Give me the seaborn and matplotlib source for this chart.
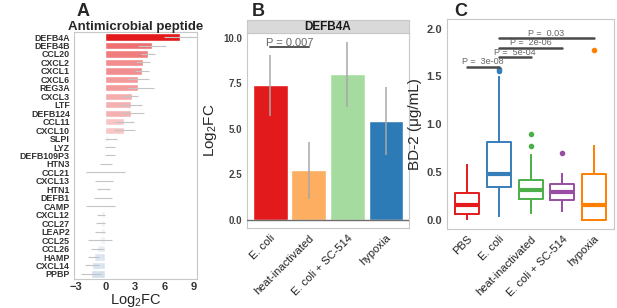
import numpy as np
import pandas as pd
import matplotlib.pyplot as plt
import matplotlib.colors as mcolors
import seaborn as sns

sns.set_style("white")
plt.rcParams['font.family'] = ['Liberation Sans', 'DejaVu Sans']
plt.rcParams['mathtext.default'] = 'regular'

# Panel A: antimicrobial peptide log2 fold changes
genes = ["DEFB4A", "DEFB4B", "CCL20", "CXCL2", "CXCL1", "CXCL6", "REG3A", "CXCL3",
         "LTF", "DEFB124", "CCL11", "CXCL10", "SLPI", "LYZ", "DEFB109P3", "HTN3",
         "CCL21", "CXCL13", "HTN1", "DEFB1", "CAMP", "CXCL12", "CCL27", "LEAP2",
         "CCL25", "CCL26", "HAMP", "CXCL14", "PPBP"]
log2fc = [7.6, 4.7, 4.3, 3.8, 3.7, 3.35, 3.35, 2.7, 2.6, 2.6, 1.9, 1.85, 0.35, 0.2,
          0.1, 0.05, 0.0, -0.05, -0.1, -0.15, -0.25, -0.45, -0.45, -0.5, -0.55,
          -0.85, -1.2, -1.35, -1.5]
log2fc_lo = [5.9, 3.3, 3.6, 3.1, 3.0, 2.3, 2.2, 1.7, 1.5, 1.5, 1.0, 0.9, 0.0, -0.1,
             -0.07, -0.6, -2.0, -1.1, -0.9, -1.2, -1.95, -0.9, -1.0, -1.05, -1.8,
             -1.45, -1.75, -2.1, -2.5]
log2fc_hi = [9.35, 6.15, 5.0, 4.5, 4.4, 4.4, 4.9, 3.3, 3.7, 3.9, 2.85, 3.0, 1.2, 1.0,
             1.0, 0.65, 2.0, 0.8, 0.45, 0.65, 1.0, -0.1, -0.1, -0.05, 0.65, -0.2,
             -0.7, -0.7, -0.45]

# Panel B: DEFB4A by condition
conds_b = ["E. coli", "heat-inactivated", "E. coli + SC-514", "hypoxia"]
fc_b = [7.4, 2.75, 8.0, 5.45]
fc_b_lo = [5.7, 1.15, 6.2, 3.55]
fc_b_hi = [9.05, 4.3, 9.75, 7.3]
colors_b = ["#E31A1C", "#FDAE61", "#A6DBA0", "#2C7BB6"]

# Panel C: BD-2 protein levels
groups_c = ["PBS", "E. coli", "heat-inactivated", "E. coli + SC-514", "hypoxia"]
bd2_pbs = [0.0, 0.02, 0.04, 0.063, 0.09, 0.13, 0.16, 0.19, 0.24, 0.285, 0.35, 0.45, 0.59]
bd2_ecoli = [0.035, 0.2, 0.3, 0.34, 0.38, 0.43, 0.48, 0.55, 0.68, 0.82, 1.5, 1.56, 1.58]
bd2_heat = [0.06, 0.14, 0.2, 0.22, 0.26, 0.29, 0.31, 0.34, 0.38, 0.42, 0.69, 0.77, 0.9]
bd2_sc514 = [0.08, 0.15, 0.19, 0.21, 0.24, 0.27, 0.29, 0.31, 0.34, 0.375, 0.43, 0.49, 0.70]
bd2_hypoxia = [0.0, 0.0, 0.0, 0.0, 0.03, 0.08, 0.155, 0.25, 0.38, 0.48, 0.62, 0.78, 1.78]
colors_c = ["#E41A1C", "#377EB8", "#4DAF4A", "#984EA3", "#FF7F00"]
pairs_c = [(0, 1), (1, 2), (1, 3), (1, 4)]
pair_y = [1.6, 1.7, 1.8, 1.9]
pair_text = ["P =  3e-08", "P =  5e-04", "P =  2e-06", "P =  0.03"]

W, H = 617, 308
fig = plt.figure(figsize=(W / 100, H / 100), dpi=100)


def rect(l, t, r, b):
    return [l / W, 1 - b / H, (r - l) / W, (b - t) / H]


def frame(ax, col='#C8C8C8'):
    for s in ax.spines.values():
        s.set_visible(True)
        s.set_color(col)
        s.set_linewidth(0.8)
    ax.tick_params(length=2, width=0.6, color='#888888', pad=1.5)


axA = fig.add_axes(rect(74, 32, 197, 279))
axB = fig.add_axes(rect(247, 33, 409, 228))
strip = fig.add_axes(rect(247, 20, 409, 33))
axC = fig.add_axes(rect(447, 19, 614, 229))

# ---- A
dfA = pd.DataFrame({'gene': genes, 'log2fc': log2fc})
cmap = mcolors.LinearSegmentedColormap.from_list('rb', ['#2166AC', 'white', '#E31A1C'])
norm = mcolors.Normalize(-7.6, 7.6)
palA = [cmap(norm(v)) for v in log2fc]
sns.barplot(data=dfA, x='log2fc', y='gene', hue='gene', palette=palA, saturation=1,
            legend=False, width=0.85, orient='h', ax=axA)
axA.hlines(np.arange(len(genes)), log2fc_lo, log2fc_hi, color='#C4C4C4', lw=0.8, zorder=5)
axA.set_xlim(-3.2, 9.3)
axA.set_ylim(len(genes) - 0.4, -0.6)
axA.set_xticks([-3, 0, 3, 6, 9])
axA.set_xlabel('Log$_2$FC', fontsize=10.5, labelpad=0)
axA.set_ylabel('')
frame(axA)
axA.tick_params(axis='y', labelsize=6.4, labelcolor='#333333', pad=1)
axA.tick_params(axis='x', labelsize=8, labelcolor='#333333', pad=0.5)
for t in axA.get_yticklabels() + axA.get_xticklabels():
    t.set_fontweight('bold')
axA.set_title('Antimicrobial peptide', fontweight='bold', fontsize=9.5, pad=1.5)
fig.text(77 / W, 1 - 3 / H, 'A', fontsize=13, fontweight='bold', va='top')

# ---- B
dfB = pd.DataFrame({'cond': conds_b, 'fc': fc_b})
sns.barplot(data=dfB, x='cond', y='fc', hue='cond', palette=colors_b, saturation=1,
            legend=False, width=0.9, ax=axB)
axB.vlines(np.arange(len(conds_b)), fc_b_lo, fc_b_hi, color='#A8A8A8', lw=1.1, zorder=5)
axB.axhline(0, color='#6E6E6E', lw=1, zorder=6)
axB.plot([0, 1], [9.5, 9.5], color='#555555', lw=1.4)
axB.text(0.5, 9.45, 'P = 0.007', ha='center', va='bottom', fontsize=8, color='#666666')
axB.set_xlim(-0.6, 3.6)
axB.set_ylim(-0.44, 10.26)
axB.set_yticks([0, 2.5, 5, 7.5, 10])
axB.set_yticklabels(['0.0', '2.5', '5.0', '7.5', '10.0'])
axB.set_xlabel('')
axB.set_ylabel('Log$_2$FC', fontsize=11, labelpad=3)
frame(axB)
axB.tick_params(axis='y', labelsize=7, labelcolor='#444444')
for t in axB.get_yticklabels():
    t.set_fontweight('bold')
axB.set_xticks(range(len(conds_b)))
axB.set_xticklabels(conds_b, rotation=45, ha='right', rotation_mode='anchor',
                    fontsize=8, color='#222222')
strip.set_facecolor('#D9D9D9')
strip.set_xticks([])
strip.set_yticks([])
frame(strip, '#C8C8C8')
strip.text(0.5, 0.45, 'DEFB4A', ha='center', va='center', fontsize=8.5,
           fontweight='bold', color='#1A1A1A')
fig.text(252 / W, 1 - 3 / H, 'B', fontsize=13, fontweight='bold', va='top')

# ---- C
dfC = pd.DataFrame({
    'group': np.repeat(groups_c, [len(bd2_pbs), len(bd2_ecoli), len(bd2_heat),
                                  len(bd2_sc514), len(bd2_hypoxia)]),
    'bd2': bd2_pbs + bd2_ecoli + bd2_heat + bd2_sc514 + bd2_hypoxia,
})
sns.boxplot(data=dfC, x='group', y='bd2', hue='group', palette=colors_c, fill=False,
            width=0.75, linewidth=1.4, showcaps=False, legend=False,
            medianprops={'linewidth': 3},
            flierprops={'marker': 'o', 'markersize': 3}, ax=axC)
for ln in axC.lines:
    if ln.get_marker() == 'o':
        ln.set_markerfacecolor(ln.get_markeredgecolor())
for (a, b), y, txt in zip(pairs_c, pair_y, pair_text):
    axC.plot([a, b], [y, y], color='#4A4A4A', lw=1.8)
    axC.text((a + b) / 2, y + 0.005, txt, ha='center', va='bottom', fontsize=6.5,
             color='#666666')
axC.set_xlim(-0.64, 4.63)
axC.set_ylim(-0.094, 2.1)
axC.set_yticks([0, 0.5, 1, 1.5, 2])
axC.set_yticklabels(['0.0', '0.5', '1.0', '1.5', '2.0'])
axC.set_xlabel('')
axC.set_ylabel('BD-2 (μg/mL)', fontsize=11, labelpad=3)
frame(axC)
axC.tick_params(axis='y', labelsize=8, labelcolor='#444444')
for t in axC.get_yticklabels():
    t.set_fontweight('bold')
axC.set_xticks(range(len(groups_c)))
axC.set_xticklabels(groups_c, rotation=45, ha='right', rotation_mode='anchor',
                    fontsize=8, color='#222222')
fig.text(454 / W, 1 - 3 / H, 'C', fontsize=13, fontweight='bold', va='top')

fig.savefig('out.png', dpi=100)
